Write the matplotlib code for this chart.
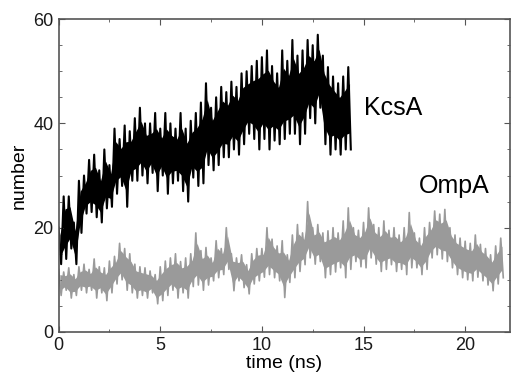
import numpy as np
import matplotlib
matplotlib.use('Agg')
from matplotlib import pyplot as plt
from matplotlib.ticker import MultipleLocator

plt.rcParams['font.family'] = ['Liberation Sans', 'DejaVu Sans']

# KcsA: band tops (t = 0, 0.25, ...) and band bottoms (t = 0.125, 0.375, ...)
kcsa_hi = [20, 26, 26, 21, 29, 30, 33, 34, 31, 35, 32, 39, 37, 39.6, 38.5, 41, 43, 40, 40, 42,
           39, 42, 40, 39, 42, 39, 40.5, 42, 44, 47.7, 43, 45, 47, 46, 48, 47, 49.6, 50, 51, 52,
           52.7, 54, 51, 49.6, 54, 52, 56, 53, 54, 56, 55, 57, 53, 50.8, 49, 47.7, 49, 50.8]
kcsa_lo = [13, 14, 16, 13, 19, 22.7, 23, 22, 21, 23.7, 24, 26.5, 28, 24, 29, 29, 30, 28.5, 30.5, 27,
           30, 26.5, 28.5, 29, 27, 25, 29.6, 28, 28.5, 32, 31, 32, 33.5, 33.5, 35, 34, 36, 38, 37, 35,
           37, 35, 36.7, 36, 37, 38, 38, 36, 38, 41, 40, 43, 36, 34, 35, 34, 35, 35]

# OmpA: same layout, 0 - 22 ns
ompa_hi = [12, 11.5, 12.3, 11, 12.5, 13, 12, 14, 12.5, 12.3, 13.6, 14.5, 17, 16, 15, 13, 12.5, 12.3,
           11.7, 11, 12.5, 13.6, 14.2, 15, 13.5, 14.2, 15, 19, 15.6, 16.2, 14.2, 17.5, 16, 20, 15, 14.2,
           14.8, 12.9, 15, 16, 16, 20, 17.8, 16.5, 17.5, 14.8, 18.6, 20.6, 19, 25, 20, 20.6, 19, 19.4,
           20, 19, 21.3, 23.8, 20, 19.5, 21, 23.8, 20.6, 20, 21.3, 19.5, 20, 18.6, 20, 22.9, 19, 18,
           20, 21, 23.2, 22.6, 23.5, 20, 18.6, 18, 17.4, 17, 18.6, 16.8, 16, 14.8, 16.5, 18]
ompa_lo = [7, 8, 6.5, 7, 8, 7.5, 8, 6.5, 7.5, 6, 7.5, 9.2, 10, 8, 7.5, 6.5, 7, 6.5, 7.5, 5.4, 6, 7,
           8, 6.5, 7.5, 6.5, 8.7, 9, 8, 9, 9.8, 10.4, 11, 12, 7.9, 9.8, 8.5, 7.3, 9.2, 9.8, 10.5, 11,
           10.4, 9.8, 6.6, 9.5, 10.4, 11.6, 12.9, 14.2, 13, 13.5, 10.4, 11, 11.5, 12.3, 10.4, 12, 13.5,
           12.5, 12.3, 14.2, 13, 11.6, 12, 12.9, 11.6, 12, 11, 12.3, 12.3, 11, 12, 14.2, 14.8, 14,
           13.5, 12.3, 11, 10.4, 10, 9.8, 10.5, 9.8, 9, 7.9, 9.2, 10.4]

step = 0.25


def draw_band(ax, hi, lo, color, lw):
    hi = np.asarray(hi, float)
    lo = np.asarray(lo, float)
    t = np.empty(2 * len(hi))
    y = np.empty(2 * len(hi))
    t[0::2] = np.arange(len(hi)) * step
    t[1::2] = np.arange(len(lo)) * step + step / 2
    y[0::2] = hi
    y[1::2] = lo
    # dense core of the trace, spikes poke out of it
    tc = np.arange(len(hi)) * step + step / 4
    span = hi - lo
    ax.fill_between(tc, hi - 0.2 * span, lo + 0.2 * span, color=color, lw=0)
    ax.plot(t, y, color=color, lw=lw)


fig = plt.figure(figsize=(5.14, 3.82), dpi=100)
ax = fig.add_axes([0.114, 0.131, 0.878, 0.819])

draw_band(ax, ompa_hi, ompa_lo, '#9a9a9a', 1.2)
draw_band(ax, kcsa_hi, kcsa_lo, 'black', 1.5)

ax.text(15.0, 43, 'KcsA', fontsize=18, va='center')
ax.text(17.7, 28, 'OmpA', fontsize=18, va='center')

ax.set_xlim(0, 22.2)
ax.set_ylim(0, 60)
ax.xaxis.set_major_locator(MultipleLocator(5))
ax.xaxis.set_minor_locator(MultipleLocator(2.5))
ax.yaxis.set_major_locator(MultipleLocator(20))
ax.yaxis.set_minor_locator(MultipleLocator(5))
ax.tick_params(which='both', direction='in', top=True, right=True, colors='#555555',
               labelcolor='#1a1a1a', labelsize=13)
ax.tick_params(which='major', length=4)
ax.tick_params(which='minor', length=2.5)
for s in ax.spines.values():
    s.set_color('#555555')
    s.set_linewidth(1.2)

ax.set_xlabel('time (ns)', fontsize=14, labelpad=1)
ax.set_ylabel('number', fontsize=14, labelpad=4)

fig.savefig('out.png', dpi=100)
